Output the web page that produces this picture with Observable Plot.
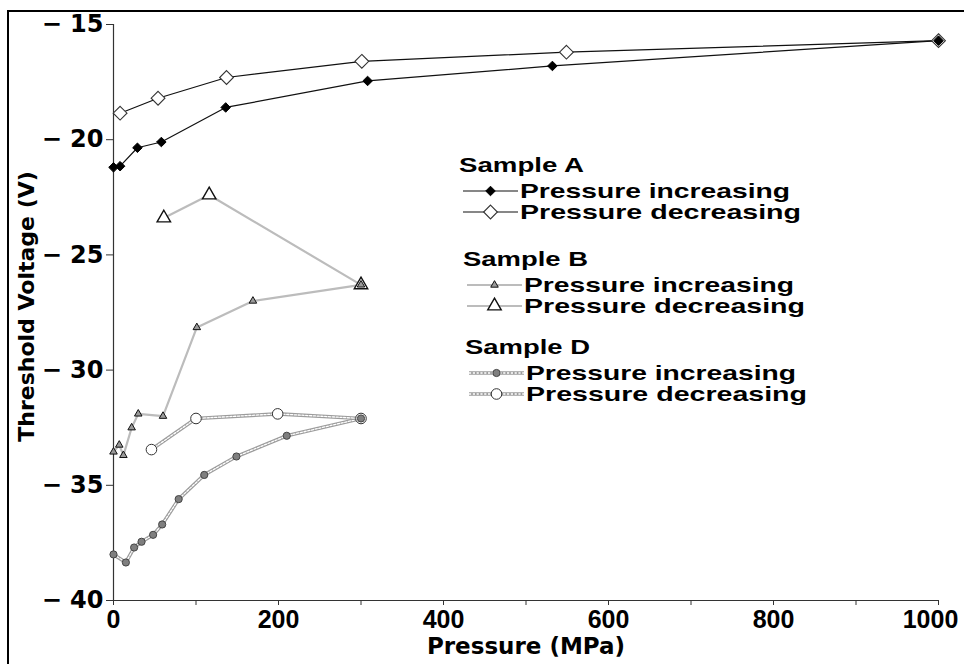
<!DOCTYPE html>
<html>
<head>
<meta charset="utf-8">
<script src="https://cdn.jsdelivr.net/npm/d3@7"></script>
<script src="https://cdn.jsdelivr.net/npm/@observablehq/plot@0.6"></script>
<style>
  html, body { margin: 0; padding: 0; background: #fff; overflow: hidden; }
  #wrap { position: relative; width: 964px; height: 664px; overflow: hidden; background: #fff; }
  #chart { position: absolute; left: 0; top: 0; }
  #legend { position: absolute; left: 0; top: 0; pointer-events: none; }
  #border { position: absolute; left: 7px; top: 10px; width: 1200px; height: 900px;
            border: 2px solid #000; pointer-events: none; }
</style>
</head>
<body>
<div id="wrap">
  <div id="chart"></div>
  <svg id="legend" width="964" height="664"></svg>
  <div id="border"></div>
</div>
<script>
// Threshold voltage vs. applied pressure, three samples, loading and unloading

// Sample A
const aIncP = [0, 8, 29, 58, 136, 308, 532, 1000];
const aIncV = [-21.2, -21.15, -20.35, -20.1, -18.6, -17.45, -16.8, -15.7];
const aDecP = [1000, 549, 301, 137, 54, 8];
const aDecV = [-15.7, -16.2, -16.6, -17.3, -18.2, -18.85];

// Sample B
const bIncP = [0, 7, 12, 22, 30, 60, 101, 169, 300];
const bIncV = [-33.55, -33.25, -33.7, -32.5, -31.9, -32.0, -28.15, -27.0, -26.3];
const bDecP = [300, 116, 61];
const bDecV = [-26.3, -22.4, -23.4];

// Sample D
const dIncP = [0, 15, 25, 34, 48, 59, 79, 110, 149, 210, 300];
const dIncV = [-38.0, -38.35, -37.7, -37.45, -37.15, -36.7, -35.6, -34.55, -33.75, -32.85, -32.1];
const dDecP = [300, 199, 100, 46];
const dDecV = [-32.1, -31.9, -32.1, -33.45];

// Axes
const xTickValues = [0, 100, 200, 300, 400, 500, 600, 700, 800, 900, 1000];
const xLabelValues = [0, 200, 400, 600, 800];
const xLastLabel = [1000];
const yTickValues = [-40, -35, -30, -25, -20, -15];
const xTitle = "Pressure (MPa)";
const yTitle = "Threshold Voltage (V)";

// Legend text
const sampleNames = ["Sample A", "Sample B", "Sample D"];
const directionNames = ["Pressure increasing", "Pressure decreasing"];

const toRows = (P, V) => P.map((p, i) => ({p, v: V[i]}));

const series = [
  {id: "aInc", group: 0, dir: 0, rows: toRows(aIncP, aIncV)},
  {id: "aDec", group: 0, dir: 1, rows: toRows(aDecP, aDecV)},
  {id: "bInc", group: 1, dir: 0, rows: toRows(bIncP, bIncV)},
  {id: "bDec", group: 1, dir: 1, rows: toRows(bDecP, bDecV)},
  {id: "dInc", group: 2, dir: 0, rows: toRows(dIncP, dIncV)},
  {id: "dDec", group: 2, dir: 1, rows: toRows(dDecP, dDecV)}
];

// Line and marker styles for each series
const lineA = {stroke: "#111", strokeWidth: 1.2};
const lineB = {stroke: "#bcbcbc", strokeWidth: 2.2};
const lineD = {stroke: "#9c9c9c", strokeWidth: 3.6, inner: {stroke: "#fff", strokeWidth: 1.3, dash: "2.2,1.6"}};
const styles = {
  aInc: {line: lineA, dot: {symbol: "diamond2", r: 4.3, fill: "#000", stroke: "#000", strokeWidth: 1}},
  aDec: {line: lineA, dot: {symbol: "diamond2", r: 6.2, fill: "#fff", stroke: "#333", strokeWidth: 1.1}},
  bInc: {line: lineB, dot: {symbol: "triangle", r: 2.8, fill: "#9a9a9a", stroke: "#111", strokeWidth: 1}},
  bDec: {line: lineB, dot: {symbol: "triangle", r: 5, fill: "#fff", stroke: "#111", strokeWidth: 1.4}},
  dInc: {line: lineD, dot: {symbol: "circle", r: 3.6, fill: "#7f7f7f", stroke: "#444", strokeWidth: 1}},
  dDec: {line: lineD, dot: {symbol: "circle", r: 5.3, fill: "#fff", stroke: "#333", strokeWidth: 1}}
};

const lineMarks = series.flatMap(s => {
  const L = styles[s.id].line;
  const marks = [Plot.line(s.rows, {x: "p", y: "v", stroke: L.stroke, strokeWidth: L.strokeWidth})];
  if (L.inner) marks.push(Plot.line(s.rows, {x: "p", y: "v", stroke: L.inner.stroke,
    strokeWidth: L.inner.strokeWidth, strokeDasharray: L.inner.dash}));
  return marks;
});

// hollow (decreasing) markers first so the filled ones stay visible where they coincide
const dotOrder = ["aDec", "bDec", "dDec", "aInc", "bInc", "dInc"];
const dotMarks = dotOrder.map(id => {
  const s = series.find(d => d.id === id);
  const D = styles[id].dot;
  return Plot.dot(s.rows, {x: "p", y: "v", symbol: D.symbol, r: D.r, fill: D.fill,
    stroke: D.stroke, strokeWidth: D.strokeWidth});
});

const xLabelFont = {fontSize: 25, fontFamily: "Liberation Sans", fontWeight: "bold", tickFormat: d => String(d)};
const titleFont = {fontFamily: "DejaVu Sans", fontWeight: "bold", fill: "#000"};

const chart = Plot.plot({
  width: 964,
  height: 664,
  marginLeft: 113,
  marginRight: 26,
  marginTop: 24,
  marginBottom: 64,
  style: {background: "transparent", color: "#000", overflow: "visible"},
  x: {domain: [0, 1000]},
  y: {domain: [-40, -15]},
  marks: [
    Plot.ruleY([-40], {stroke: "#333", strokeWidth: 1.2}),
    Plot.ruleX([0], {stroke: "#333", strokeWidth: 1.2}),
    // tick marks every 100 MPa, labels every 200 MPa
    Plot.axisX({ticks: xTickValues, tickFormat: () => "", tickSize: 5, stroke: "#333", label: null}),
    Plot.axisX({ticks: xLabelValues, tickSize: 0, tickPadding: 10, label: null, ...xLabelFont}),
    // the last label is pulled in so it stays inside the page
    Plot.axisX({ticks: xLastLabel, tickSize: 0, tickPadding: 10, dx: -8, label: null, ...xLabelFont}),
    Plot.axisY({ticks: yTickValues, tickFormat: d => "\u2212 " + Math.abs(d),
      tickSize: 7, tickPadding: 3, stroke: "#333", label: null,
      fontSize: 24, fontFamily: "DejaVu Sans", fontWeight: "bold"}),
    Plot.text([yTitle], {text: d => d, frameAnchor: "left", textAnchor: "middle", lineAnchor: "middle",
      dx: -87, dy: -6, rotate: -90, fontSize: 22, ...titleFont}),
    Plot.text([xTitle], {text: d => d, frameAnchor: "bottom", textAnchor: "middle", lineAnchor: "middle",
      dy: 46, fontSize: 23, ...titleFont}),
    ...lineMarks,
    ...dotMarks
  ]
});
document.getElementById("chart").append(chart);

// Legend: a heading per sample, then one swatch row per direction
const symbolTypes = {circle: d3.symbolCircle, triangle: d3.symbolTriangle, diamond2: d3.symbolDiamond2};
const legendLeft = [459, 463, 465];
const legendTop = [172, 266, 354];
const headingWidth = 125;
const rowWidths = [270, 281];
const legend = d3.select("#legend")
  .style("font-family", "'Liberation Sans', Arial, sans-serif")
  .style("font-weight", "bold")
  .style("font-size", "21px");

sampleNames.forEach((name, g) => {
  const x0 = legendLeft[g], y0 = legendTop[g];
  legend.append("text").attr("x", x0).attr("y", y0).attr("fill", "#000")
    .attr("textLength", headingWidth).attr("lengthAdjust", "spacingAndGlyphs").text(name);
  series.filter(s => s.group === g).forEach(s => {
    const st = styles[s.id];
    const cy = y0 + (s.dir === 0 ? 19 : 40);
    const sx0 = x0 + 4, sx1 = x0 + 59;
    legend.append("line").attr("x1", sx0).attr("x2", sx1).attr("y1", cy).attr("y2", cy)
      .attr("stroke", st.line.stroke).attr("stroke-width", st.line.strokeWidth);
    if (st.line.inner) {
      legend.append("line").attr("x1", sx0).attr("x2", sx1).attr("y1", cy).attr("y2", cy)
        .attr("stroke", st.line.inner.stroke).attr("stroke-width", st.line.inner.strokeWidth)
        .attr("stroke-dasharray", st.line.inner.dash);
    }
    legend.append("path")
      .attr("transform", `translate(${(sx0 + sx1) / 2},${cy})`)
      .attr("d", d3.symbol(symbolTypes[st.dot.symbol], Math.PI * st.dot.r * st.dot.r)())
      .attr("fill", st.dot.fill).attr("stroke", st.dot.stroke).attr("stroke-width", st.dot.strokeWidth);
    legend.append("text").attr("x", sx1 + 2).attr("y", cy + 7).attr("fill", "#000")
      .attr("textLength", rowWidths[s.dir]).attr("lengthAdjust", "spacingAndGlyphs")
      .text(directionNames[s.dir]);
  });
});
</script>
</body>
</html>
